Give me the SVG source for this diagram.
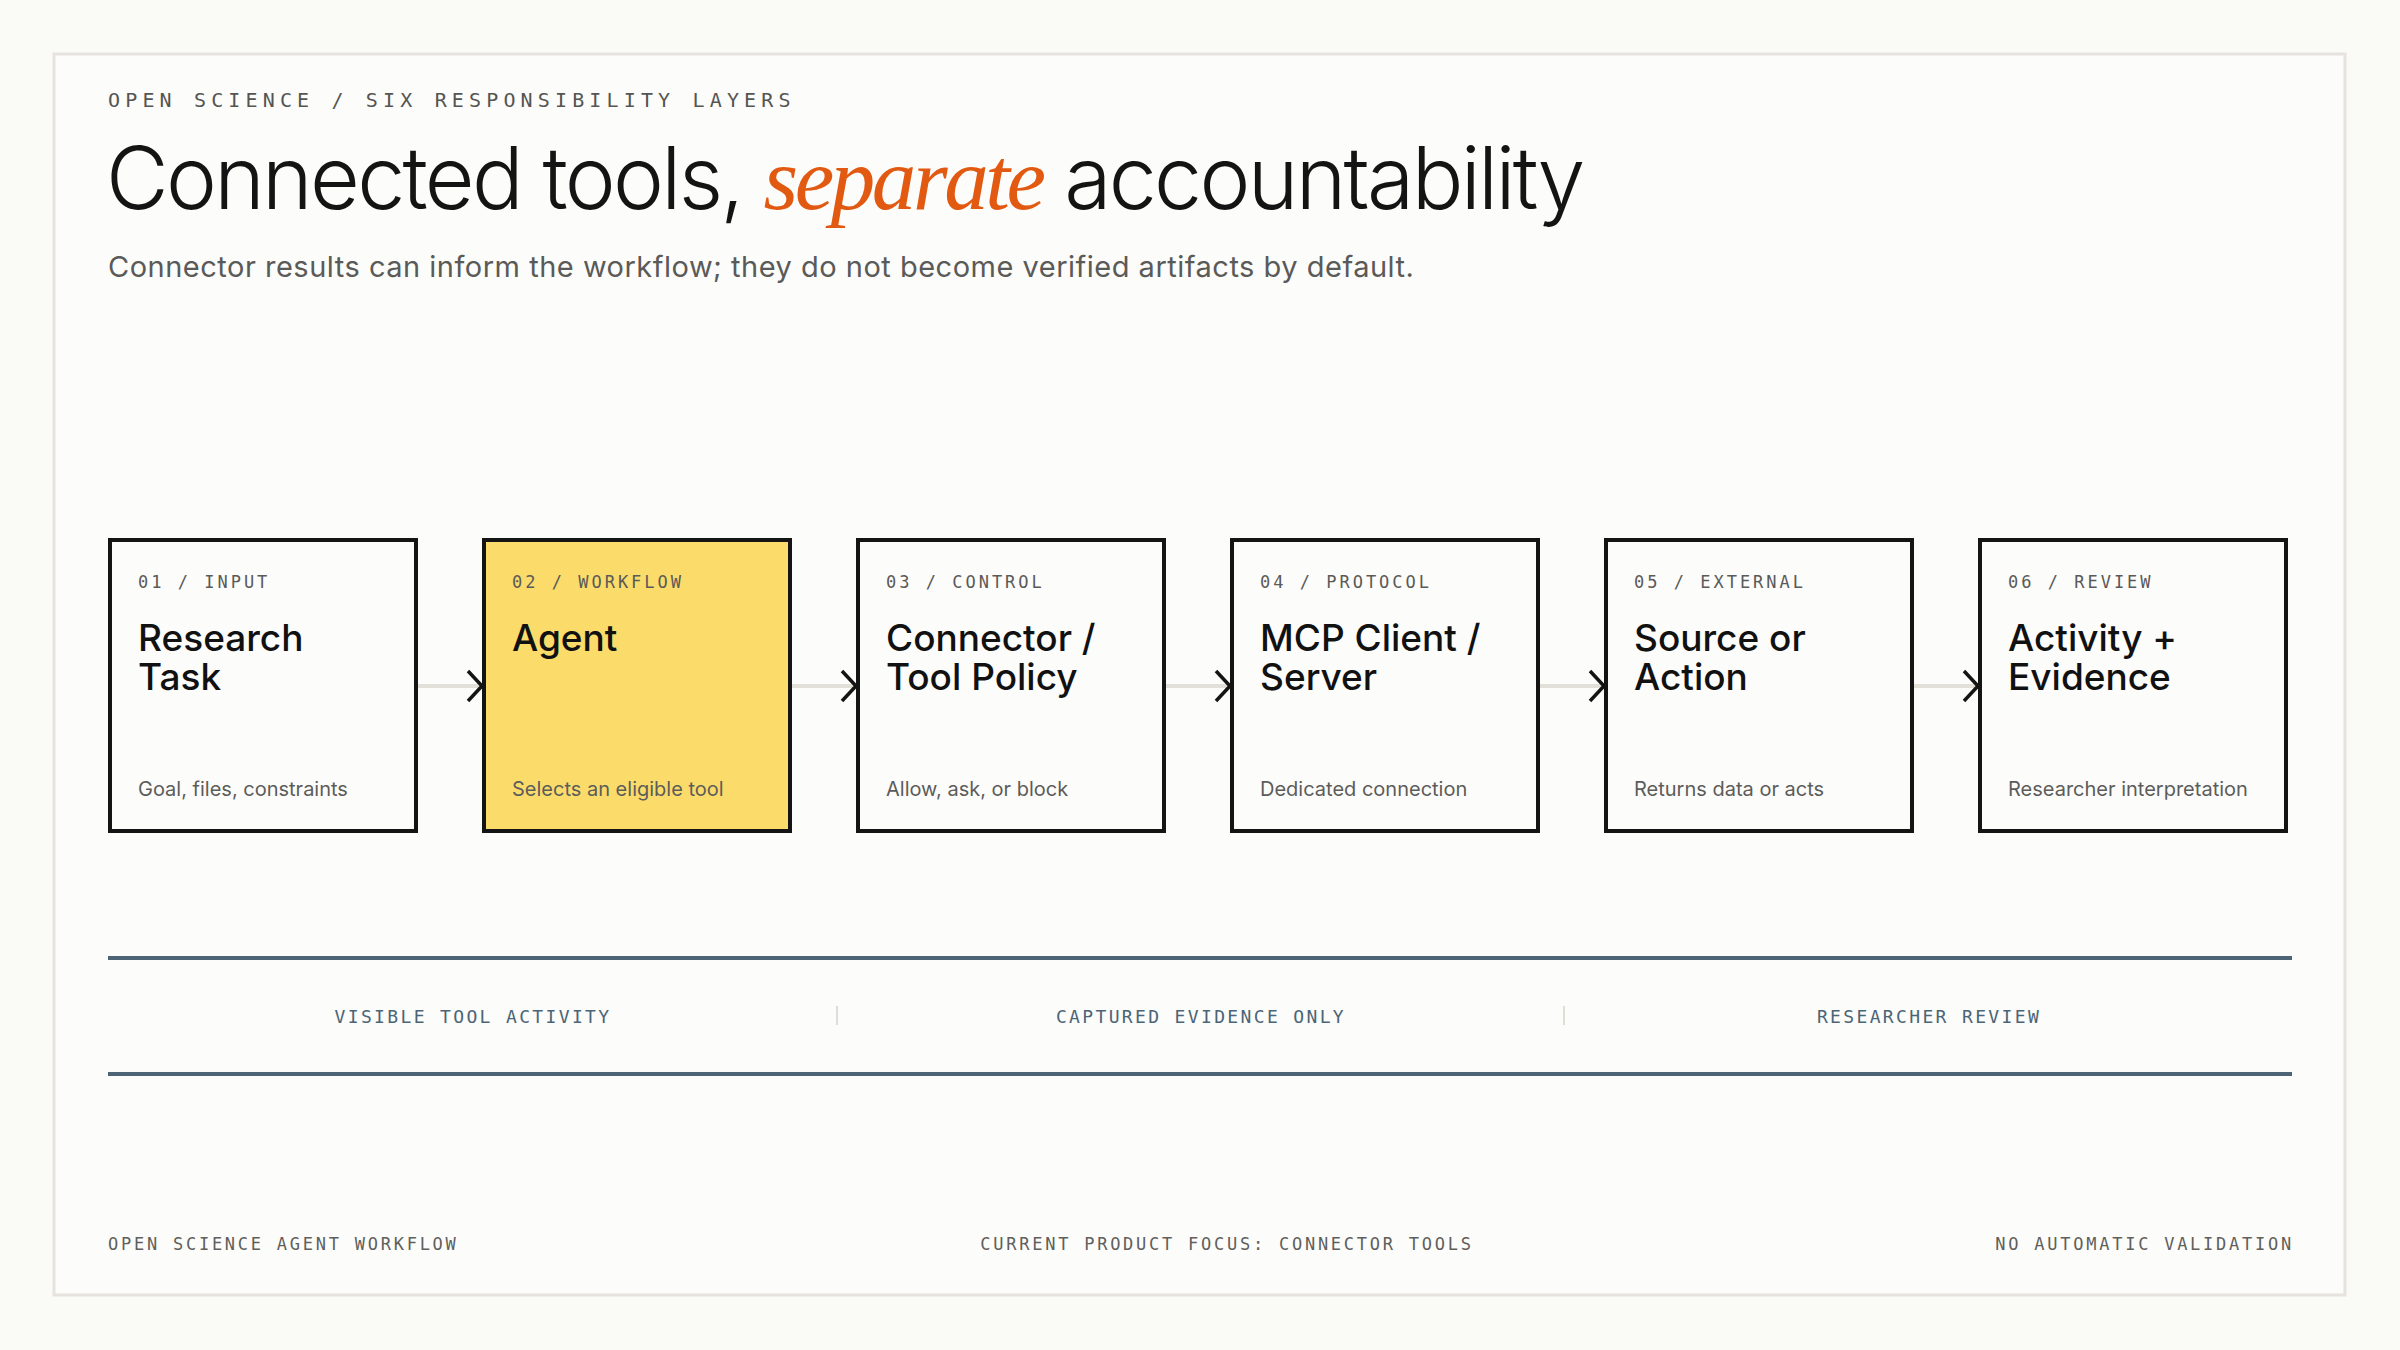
<svg xmlns="http://www.w3.org/2000/svg" width="2400" height="1350" viewBox="0 0 2400 1350">
  <defs>
    <style>
      .mono { font-family: "DejaVu Sans Mono", "Liberation Mono", monospace; }
      .sans { font-family: Inter, "Noto Sans", "Liberation Sans", sans-serif; }
      .eyebrow { font-size: 20px; letter-spacing: 5.15px; fill: #555552; }
      .title { font-size: 86px; font-weight: 300; fill: #141414; letter-spacing: -2.7px; }
      .accent { font-family: "Liberation Serif", "DejaVu Serif", serif; font-style: italic; fill: #e25a12; font-weight: 400; font-size: 89px; letter-spacing: -3.4px; }
      .subtitle { font-size: 29px; letter-spacing: 0.5px; fill: #5a5a58; }
      .box { fill: #fcfcfa; stroke: #141414; stroke-width: 4; }
      .box.hl { fill: #fbdc6a; }
      .lbl { font-size: 17px; letter-spacing: 3px; fill: #5a5a58; }
      .ttl { font-size: 37px; font-weight: 500; fill: #111111; }
      .desc { font-size: 20px; fill: #5c5c5a; }
      .conn { stroke: #e3e0da; stroke-width: 4; fill: none; }
      .band { stroke: #4b6577; stroke-width: 4; }
      .bandlbl { font-size: 18px; letter-spacing: 2.35px; fill: #4b6577; text-anchor: middle; }
      .div { stroke: #e0ddd6; stroke-width: 2; }
      .foot { font-size: 17px; letter-spacing: 2.75px; fill: #5f5f5c; }
    </style>
    <marker id="chev" markerUnits="userSpaceOnUse" markerWidth="20" markerHeight="36" viewBox="-2 -2 20 36" refX="14" refY="15" orient="auto">
      <path d="M0,0 L14,15 L0,30" fill="none" stroke="#141414" stroke-width="3.5"/>
    </marker>
  </defs>

  <rect x="0" y="0" width="2400" height="1350" fill="#fafaf7"/>
  <rect id="card" x="54" y="54" width="2291" height="1241" fill="#fcfcfa" stroke="#e6e3de" stroke-width="3"/>

  <g id="header">
    <text class="mono eyebrow" x="108" y="107">OPEN SCIENCE / SIX RESPONSIBILITY LAYERS</text>
    <text class="sans title" x="106" y="209">Connected tools, <tspan class="accent">separate</tspan> accountability</text>
    <text class="sans subtitle" x="108" y="277">Connector results can inform the workflow; they do not become verified artifacts by default.</text>
  </g>

  <g id="connectors">
    <line class="conn" x1="418" y1="686" x2="482" y2="686" marker-end="url(#chev)"/>
    <line class="conn" x1="792" y1="686" x2="856" y2="686" marker-end="url(#chev)"/>
    <line class="conn" x1="1166" y1="686" x2="1230" y2="686" marker-end="url(#chev)"/>
    <line class="conn" x1="1540" y1="686" x2="1604" y2="686" marker-end="url(#chev)"/>
    <line class="conn" x1="1914" y1="686" x2="1978" y2="686" marker-end="url(#chev)"/>
  </g>

  <g id="node-1">
    <rect class="box" x="110" y="540" width="306" height="291"/>
    <text class="mono lbl" x="138" y="588">01 / INPUT</text>
    <text class="sans ttl" x="138" y="651">Research</text>
    <text class="sans ttl" x="138" y="690">Task</text>
    <text class="sans desc" x="138" y="796">Goal, files, constraints</text>
  </g>
  <g id="node-2">
    <rect class="box hl" x="484" y="540" width="306" height="291"/>
    <text class="mono lbl" x="512" y="588">02 / WORKFLOW</text>
    <text class="sans ttl" x="512" y="651">Agent</text>
    <text class="sans desc" x="512" y="796">Selects an eligible tool</text>
  </g>
  <g id="node-3">
    <rect class="box" x="858" y="540" width="306" height="291"/>
    <text class="mono lbl" x="886" y="588">03 / CONTROL</text>
    <text class="sans ttl" x="886" y="651">Connector /</text>
    <text class="sans ttl" x="886" y="690">Tool Policy</text>
    <text class="sans desc" x="886" y="796">Allow, ask, or block</text>
  </g>
  <g id="node-4">
    <rect class="box" x="1232" y="540" width="306" height="291"/>
    <text class="mono lbl" x="1260" y="588">04 / PROTOCOL</text>
    <text class="sans ttl" x="1260" y="651">MCP Client /</text>
    <text class="sans ttl" x="1260" y="690">Server</text>
    <text class="sans desc" x="1260" y="796">Dedicated connection</text>
  </g>
  <g id="node-5">
    <rect class="box" x="1606" y="540" width="306" height="291"/>
    <text class="mono lbl" x="1634" y="588">05 / EXTERNAL</text>
    <text class="sans ttl" x="1634" y="651">Source or</text>
    <text class="sans ttl" x="1634" y="690">Action</text>
    <text class="sans desc" x="1634" y="796">Returns data or acts</text>
  </g>
  <g id="node-6">
    <rect class="box" x="1980" y="540" width="306" height="291"/>
    <text class="mono lbl" x="2008" y="588">06 / REVIEW</text>
    <text class="sans ttl" x="2008" y="651">Activity +</text>
    <text class="sans ttl" x="2008" y="690">Evidence</text>
    <text class="sans desc" x="2008" y="796">Researcher interpretation</text>
  </g>

  <g id="bands">
    <line class="band" x1="108" y1="958" x2="2292" y2="958"/>
    <line class="band" x1="108" y1="1074" x2="2292" y2="1074"/>
    <line class="div" x1="837" y1="1006" x2="837" y2="1025"/>
    <line class="div" x1="1564" y1="1006" x2="1564" y2="1025"/>
    <text class="mono bandlbl" x="473" y="1023">VISIBLE TOOL ACTIVITY</text>
    <text class="mono bandlbl" x="1201" y="1023">CAPTURED EVIDENCE ONLY</text>
    <text class="mono bandlbl" x="1929" y="1023">RESEARCHER REVIEW</text>
  </g>

  <g id="footer">
    <text class="mono foot" x="108" y="1250">OPEN SCIENCE AGENT WORKFLOW</text>
    <text class="mono foot" x="1227" y="1250" text-anchor="middle">CURRENT PRODUCT FOCUS: CONNECTOR TOOLS</text>
    <text class="mono foot" x="2294" y="1250" text-anchor="end">NO AUTOMATIC VALIDATION</text>
  </g>
</svg>
